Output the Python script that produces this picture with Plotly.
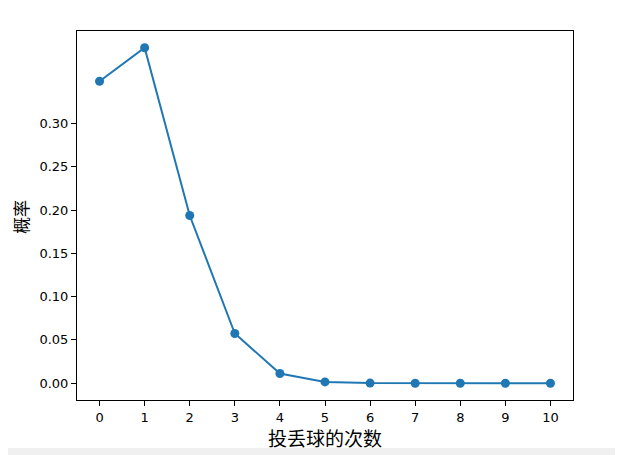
import plotly.graph_objects as go

counts = [0, 1, 2, 3, 4, 5, 6, 7, 8, 9, 10]
probs = [0.3487, 0.3874, 0.1937, 0.0574, 0.0112, 0.0015, 0.0001, 0.0000, 0.0000, 0.0000, 0.0000]
ytick_vals = [0.00, 0.05, 0.10, 0.15, 0.20, 0.25, 0.30]
ytick_text = ["0.00", "0.05", "0.10", "0.15", "0.20", "0.25", "0.30"]
x_title = "投丢球的次数"
y_title = "概率"

# page body has an 8px default margin; lay the figure out in window pixels minus that
OFF = 8
W, H = 623 - OFF, 455 - OFF
L, T = 77 - OFF, 31 - OFF
R = W - (573 - OFF)
B = H - (400 - OFF)

fig = go.Figure()
fig.add_trace(go.Scatter(
    x=counts, y=probs, mode="lines+markers",
    line=dict(color="#1f77b4", width=2),
    marker=dict(color="#1f77b4", size=9),
    showlegend=False,
))

axis_common = dict(
    showgrid=False, zeroline=False, showline=True, linecolor="black", linewidth=1,
    mirror=True, ticks="outside", ticklen=5, tickwidth=1, tickcolor="black",
    tickfont=dict(family="DejaVu Sans", size=13, color="black"),
)
fig.update_xaxes(range=[-0.5, 10.5], tickvals=counts, ticktext=[str(c) for c in counts], **axis_common)
fig.update_yaxes(range=[-0.0194, 0.4068], tickvals=ytick_vals, ticktext=ytick_text, **axis_common)

ph = H - T - B
pw = W - L - R

def px(xw):
    return (xw - OFF - L) / pw

def py(yw):
    return (H - B - (yw - OFF)) / ph

fig.add_annotation(text=x_title, xref="paper", yref="paper",
                   x=px(325), y=py(437.5), xanchor="center", yanchor="middle",
                   showarrow=False, font=dict(family="Noto Sans CJK SC", size=19, color="black"))
fig.add_annotation(text=y_title, xref="paper", yref="paper",
                   x=px(20), y=py(217), xanchor="center", yanchor="middle",
                   textangle=-90, showarrow=False,
                   font=dict(family="Noto Sans CJK SC", size=17, color="black"))
fig.add_shape(type="rect", xref="paper", yref="paper",
              x0=px(0), x1=px(623), y0=py(448), y1=py(456),
              fillcolor="#f0f0f0", line=dict(width=0), layer="below")

fig.update_layout(
    width=W, height=H, margin=dict(l=L, r=R, t=T, b=B, pad=0),
    paper_bgcolor="white", plot_bgcolor="white",
)
fig.write_html("out.html")
